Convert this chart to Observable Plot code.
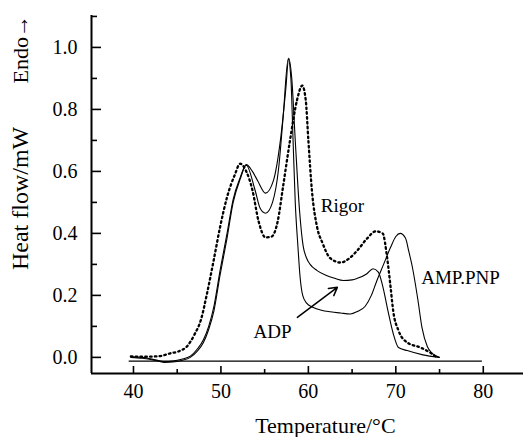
<!DOCTYPE html>
<html><head><meta charset="utf-8">
<script src="https://cdn.jsdelivr.net/npm/d3@7"></script>
<script src="https://cdn.jsdelivr.net/npm/@observablehq/plot@0.6"></script>
<style>body{margin:0;background:#fff} svg{display:block}</style>
</head><body><div id="chart"></div>
<script>
// Rigor (dotted)
const rigorT  = [39.7, 41.0, 42.5, 43.5, 44.2, 45.2, 46.1, 47.0, 47.7, 48.4, 49.15, 49.9, 50.7, 51.6, 52.2, 52.9, 53.6, 54.3, 55.1, 55.8, 56.5, 57.1, 57.9, 58.7, 59.3, 59.7, 60.0, 60.4, 61.0, 61.6, 62.5, 63.7, 64.7, 65.6, 66.7, 67.7, 68.5, 69.0, 69.4, 69.7, 70.3, 71.3, 72.8, 73.9, 74.7];
const rigorHF = [0.003, 0.002, 0.003, 0.007, 0.013, 0.02, 0.035, 0.075, 0.12, 0.205, 0.31, 0.42, 0.517, 0.59, 0.625, 0.6, 0.54, 0.44, 0.387, 0.39, 0.44, 0.55, 0.70, 0.83, 0.877, 0.83, 0.70, 0.54, 0.42, 0.37, 0.32, 0.306, 0.32, 0.345, 0.383, 0.407, 0.40, 0.323, 0.227, 0.15, 0.087, 0.048, 0.032, 0.016, 0.0];
// ADP (solid)
const adpT  = [39.7, 41.0, 42.5, 43.5, 44.5, 45.5, 46.5, 47.3, 48.0, 48.6, 49.2, 49.9, 50.7, 51.4, 52.2, 52.9, 53.6, 54.2, 55.1, 56.0, 56.8, 57.4, 57.75, 58.1, 58.5, 59.0, 59.4, 59.8, 60.2, 61.0, 62.0, 63.0, 64.0, 65.0, 65.6, 66.7, 67.4, 68.0, 68.5, 69.1, 69.7, 70.3, 71.3, 73.1, 74.9];
const adpHF = [0.002, 0.0, -0.008, -0.014, -0.012, -0.006, 0.004, 0.027, 0.057, 0.1, 0.165, 0.28, 0.40, 0.51, 0.58, 0.622, 0.60, 0.57, 0.53, 0.57, 0.70, 0.86, 0.965, 0.90, 0.70, 0.47, 0.36, 0.32, 0.30, 0.28, 0.265, 0.255, 0.248, 0.25, 0.255, 0.27, 0.286, 0.275, 0.23, 0.15, 0.077, 0.032, 0.022, 0.008, 0.0];
// AMP.PNP (solid)
const ampT  = [39.7, 41.0, 42.5, 43.5, 44.5, 45.5, 46.5, 47.3, 48.0, 48.6, 49.2, 49.9, 50.7, 51.4, 52.2, 52.9, 53.9, 54.5, 55.1, 55.9, 56.6, 57.1, 57.7, 58.0, 58.25, 58.5, 58.8, 59.05, 59.35, 59.8, 60.5, 61.5, 62.5, 63.7, 64.8, 65.6, 66.5, 67.2, 67.8, 68.6, 69.4, 70.0, 70.5, 71.1, 71.5, 71.9, 72.5, 73.0, 73.6, 74.2, 75.0];
const ampHF = [0.0, -0.003, -0.01, -0.016, -0.015, -0.01, 0.0, 0.02, 0.048, 0.09, 0.15, 0.265, 0.385, 0.50, 0.575, 0.62, 0.54, 0.48, 0.465, 0.50, 0.61, 0.77, 0.963, 0.90, 0.70, 0.50, 0.36, 0.26, 0.20, 0.175, 0.162, 0.152, 0.147, 0.143, 0.14, 0.148, 0.165, 0.2, 0.245, 0.30, 0.355, 0.39, 0.40, 0.385, 0.34, 0.29, 0.19, 0.095, 0.035, 0.012, 0.0];
// instrument baseline
const baseT  = [39.5, 79.8];
const baseHF = [-0.012, -0.012];
// ticks
const xMajor = [40, 50, 60, 70, 80];
const xMinor = [45, 55, 65, 75];
const yMajor = [0, 0.2, 0.4, 0.6, 0.8, 1.0];
const yMinor = [0.1, 0.3, 0.5, 0.7, 0.9, 1.1];
const xDomain = [35.2, 84.6];
const yDomain = [-0.052, 1.103];
// annotations
const labelText = ["Rigor", "AMP.PNP", "ADP"];
const labelT    = [63.9, 77.4, 55.9];
const labelHF   = [0.49, 0.255, 0.081];
const arrowFrom = [58.74, 0.129];
const arrowTo   = [63.31, 0.226];

const rows = (t, v) => t.map((x, i) => ({t: x, hf: v[i]}));
const rigor = rows(rigorT, rigorHF);
const adp = rows(adpT, adpHF);
const amp = rows(ampT, ampHF);
const base = rows(baseT, baseHF);
const labels = labelText.map((s, i) => ({s, t: labelT[i], hf: labelHF[i]}));

const plot = Plot.plot({
  width: 523, height: 437,
  marginLeft: 91, marginRight: 0, marginTop: 15, marginBottom: 64,
  style: {fontFamily: "'Liberation Serif', 'Times New Roman', serif", fontSize: "20px", color: "#000", background: "#fff", overflow: "visible"},
  x: {domain: xDomain},
  y: {domain: yDomain},
  marks: [
    Plot.axisX(xMajor, {tickSize: -7, tickPadding: 17, strokeWidth: 1.6, label: null, fontSize: 20}),
    Plot.axisX(xMinor, {tickSize: -4, tickFormat: () => "", strokeWidth: 1.6, label: null}),
    Plot.axisY(yMajor, {tickSize: -10, tickPadding: 24, tickFormat: d3.format(".1f"), strokeWidth: 1.6, label: null, fontSize: 20}),
    Plot.axisY(yMinor, {tickSize: -6, tickFormat: () => "", strokeWidth: 1.6, label: null}),
    Plot.ruleX([xDomain[0]], {strokeWidth: 2}),
    Plot.ruleY([yDomain[0]], {strokeWidth: 2}),
    Plot.line(base, {x: "t", y: "hf", stroke: "#000", strokeWidth: 1.2}),
    Plot.line(rigor, {x: "t", y: "hf", stroke: "#000", strokeWidth: 2.3, strokeDasharray: "1.6,3.2", curve: "monotone-x"}),
    Plot.line(adp, {x: "t", y: "hf", stroke: "#000", strokeWidth: 1.1, curve: "monotone-x"}),
    Plot.line(amp, {x: "t", y: "hf", stroke: "#000", strokeWidth: 1.1, curve: "monotone-x"}),
    Plot.arrow([{a: arrowFrom, b: arrowTo}], {x1: d => d.a[0], y1: d => d.a[1], x2: d => d.b[0], y2: d => d.b[1], stroke: "#000", strokeWidth: 1.5, headLength: 9}),
    Plot.text(labels, {x: "t", y: "hf", text: "s", fontSize: 19, fill: "#000"}),
    Plot.text([{s: "Heat flow/mW", t: 27.1, hf: 0.513}], {x: "t", y: "hf", text: "s", rotate: -90, fontSize: 24, fill: "#000"}),
    Plot.text([{s: "Endo→", t: 27.1, hf: 0.994}], {x: "t", y: "hf", text: "s", rotate: -90, fontSize: 22, fill: "#000"}),
    Plot.text([{s: "Temperature/°C", t: 61.94, hf: -0.2226}], {x: "t", y: "hf", text: "s", fontSize: 22, fill: "#000"})
  ]
});
document.getElementById("chart").appendChild(plot);
</script>
</body></html>
